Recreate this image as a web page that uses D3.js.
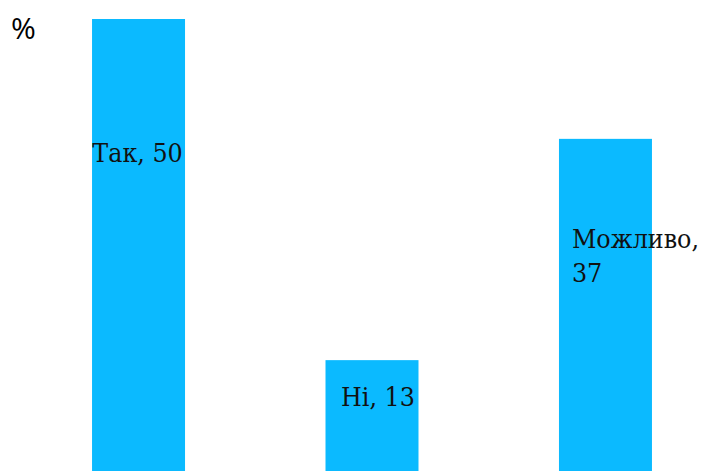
<!DOCTYPE html>
<html><head><meta charset="utf-8">
<script src="https://cdn.jsdelivr.net/npm/d3@7"></script>
<style>html,body{margin:0;padding:0;background:#fff;overflow:hidden}</style>
</head><body>
<svg id="chart" width="713" height="471"></svg>
<script>
const categories = ["Так", "Ні", "Можливо"];
const values = [50, 13, 37];
const unitLabel = "%";
// label layout (not data): lines, anchor, dx from bar center, baseline offset from bar top
const labelLines = [["Так, 50"], ["Ні, 13"], ["Можливо,", "37"]];
const labelLayout = [
  {anchor: "middle", dx: -1, dy: 143},
  {anchor: "middle", dx: 6, dy: 46},
  {anchor: "start", dx: -33.5, dy: 109}
];

const svg = d3.select("#chart");
const x = d3.scaleBand().domain(categories).range([22, 722]).paddingInner(0.6017).paddingOuter(0.3).align(0.5);
const y = d3.scaleLinear().domain([0, 50]).range([480, 19]);

svg.append("text").attr("x", 11).attr("y", 39)
  .attr("font-family", "Open Sans, sans-serif").attr("font-size", 30).attr("fill", "#000")
  .text(unitLabel);

svg.selectAll("rect.bar").data(values).join("rect").attr("class", "bar")
  .attr("x", (d, i) => x(categories[i]))
  .attr("width", x.bandwidth())
  .attr("y", d => y(d))
  .attr("height", d => y(0) - y(d))
  .attr("fill", "#0bbaff");

const lbl = svg.selectAll("text.lbl").data(values).join("text").attr("class", "lbl")
  .attr("font-family", "DejaVu Serif Condensed, DejaVu Serif, serif").attr("font-stretch", "condensed")
  .attr("font-size", 26.5).attr("fill", "#111")
  .attr("text-anchor", (d, i) => labelLayout[i].anchor)
  .attr("x", (d, i) => x(categories[i]) + x.bandwidth() / 2 + labelLayout[i].dx)
  .attr("y", (d, i) => y(d) + labelLayout[i].dy);
lbl.each(function(d, i) {
  const t = d3.select(this);
  const bx = x(categories[i]) + x.bandwidth() / 2 + labelLayout[i].dx;
  labelLines[i].forEach((line, j) => {
    t.append("tspan").attr("x", bx).attr("dy", j === 0 ? 0 : 34).text(line);
  });
});
</script>
</body></html>
